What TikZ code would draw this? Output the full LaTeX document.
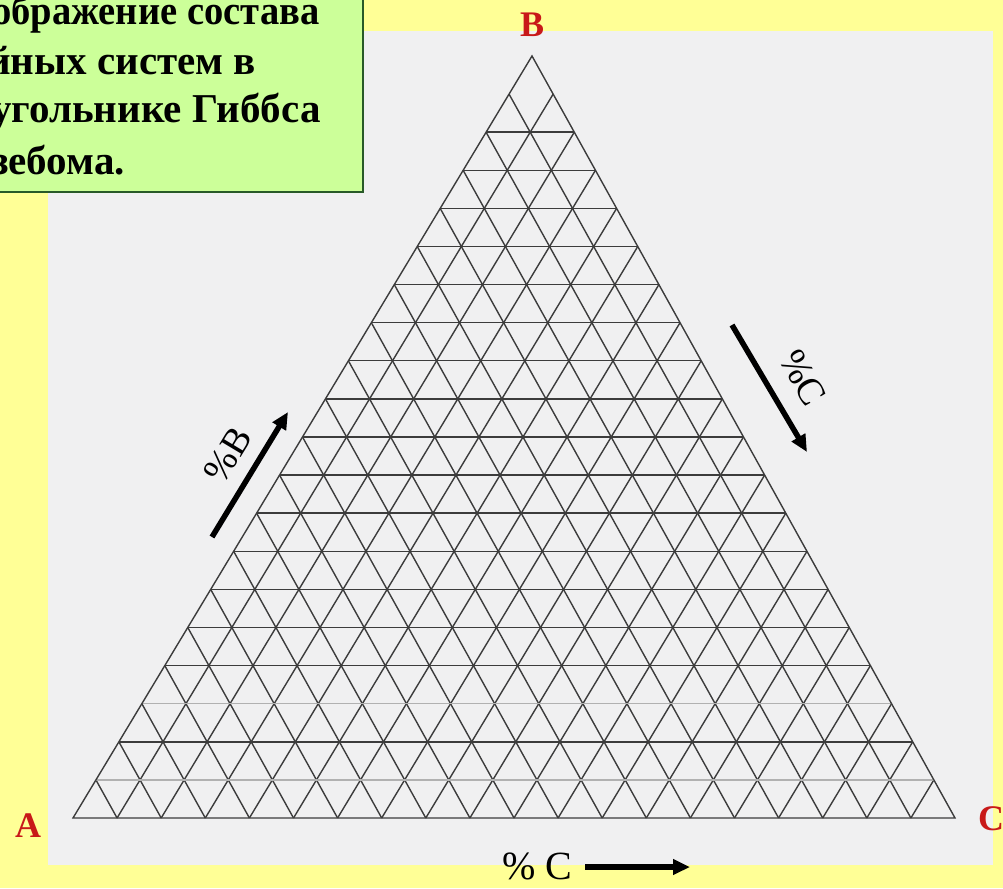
\documentclass[tikz,border=0pt]{standalone}
\usepackage{fontspec}
\setmainfont{Liberation Serif}
\usetikzlibrary{calc,arrows.meta}
\definecolor{bgyellow}{RGB}{255,255,150}
\definecolor{paper}{RGB}{240,240,241}
\definecolor{boxgreen}{RGB}{204,255,153}
\definecolor{boxline}{RGB}{40,90,40}
\definecolor{lblred}{RGB}{200,25,25}
\definecolor{gridc}{RGB}{60,60,60}
\begin{document}
\begin{tikzpicture}[x=1pt,y=-1pt,
  gridline/.style={draw=gridc,line width=1.4pt},
  faintline/.style={draw=gridc!40,line width=1.2pt},
  vlabel/.style={text=lblred,font=\fontsize{36}{40}\selectfont\bfseries,inner sep=0pt},
  titleline/.style={font=\fontsize{41}{48}\selectfont\bfseries,anchor=base west,inner sep=0pt},
  pct/.style={font=\fontsize{38}{42}\selectfont,inner sep=0pt},
  bigarrow/.style={line width=5.5pt,-{Triangle[length=17pt,width=15pt]}}]
\useasboundingbox (0,0) rectangle (1003,888);
\clip (0,0) rectangle (1003,888);
\fill[bgyellow] (0,0) rectangle (1003,888);
\fill[paper] (48,31) rectangle (993,865);
% triangle
\coordinate (A) at (73,818);
\coordinate (B) at (532,56);
\coordinate (C) at (955,818);
\foreach \i in {1,...,19}{
  \pgfmathsetmacro\s{\i/20}
  \pgfmathsetmacro\t{1-\i/20}
  \draw[gridline] ($(A)!\s!(C)$) -- ($(C)!\t!(B)$);
  \draw[gridline] ($(A)!\s!(C)$) -- ($(A)!\s!(B)$);
}
\foreach \k in {2,...,16,18}{
  \pgfmathsetmacro\s{\k/20}
  \draw[gridline] ($(B)!\s!(A)$) -- ($(B)!\s!(C)$);
}
\foreach \k in {17,19}{
  \pgfmathsetmacro\s{\k/20}
  \draw[faintline] ($(B)!\s!(A)$) -- ($(B)!\s!(C)$);
}
\draw[gridline] (A) -- (B) -- (C) -- cycle;
% vertex labels
\node[vlabel] (lA) at (28,826) {A};
\node[vlabel] (lB) at (532,25) {B};
\node[vlabel] (lC) at (991,819) {C};
% arrows and percent labels
\coordinate (bs) at (212,537);
\coordinate (be) at (288,412);
\draw[bigarrow] (bs) -- (be);
\node[pct,rotate=59] (pB) at (228,455) {\%B};
\coordinate (cs) at (732,325);
\coordinate (ce) at (807,452);
\draw[bigarrow] (cs) -- (ce);
\node[pct,rotate=-60] (pC) at (803,378) {\%C};
\node[pct,font=\fontsize{40}{44}\selectfont] (pBot) at (537,866) {\% C};
\coordinate (as) at (585,867);
\coordinate (ae) at (690,867);
\draw[bigarrow] (as) -- (ae);
% title box
\draw[fill=boxgreen,draw=boxline,line width=2pt] (-20,-20) rectangle (363,192);
\node[titleline,xscale=0.94] (t1) at (-8,25) {ображение состава};
\node[titleline] (t2) at (-13,75) {йных систем в};
\node[titleline] (t3) at (-9,123) {угольнике Гиббса};
\node[titleline] (t4) at (-8,174) {зебома.};
\end{tikzpicture}
\end{document}
